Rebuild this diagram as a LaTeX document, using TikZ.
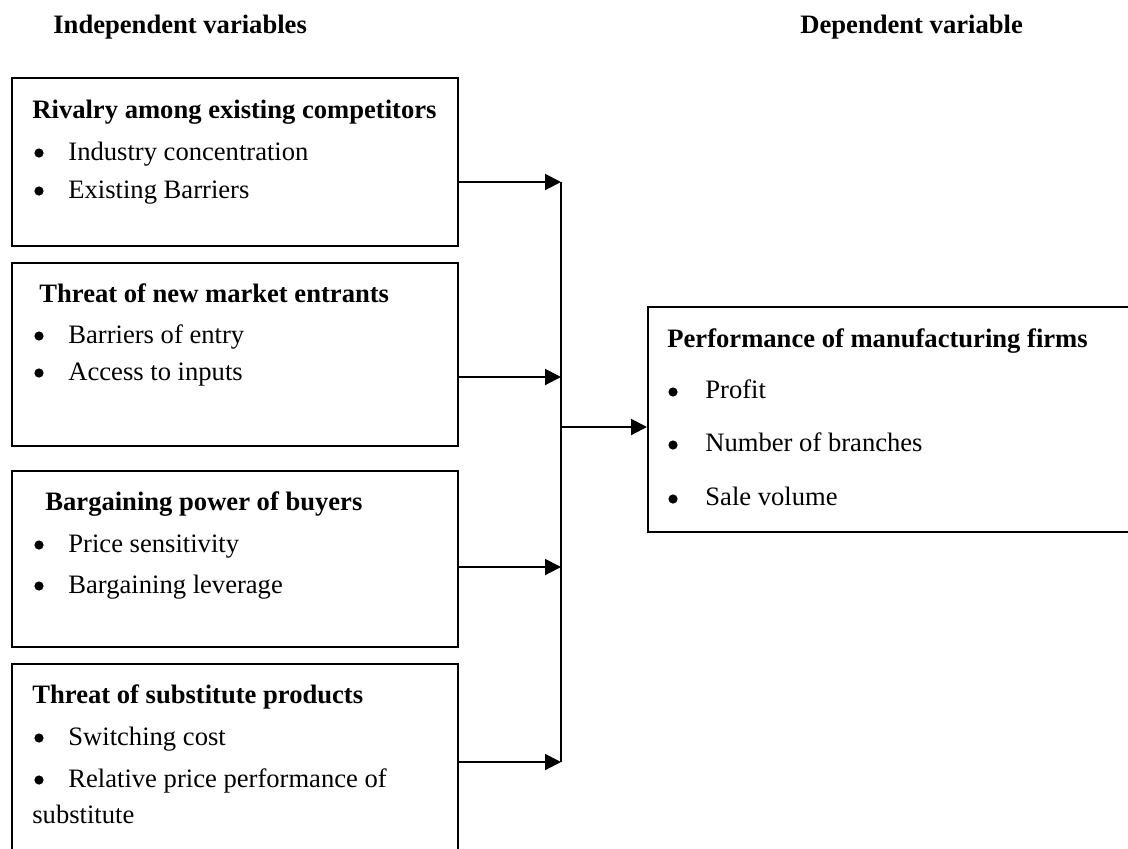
\documentclass[tikz,border=0pt]{standalone}
\usepackage{fontspec}
\setmainfont{Liberation Serif}
\usetikzlibrary{arrows.meta}
\tikzset{
  box/.style={draw, line width=1pt, rectangle, anchor=north west, inner sep=0pt},
  txt/.style={anchor=base west, inner sep=0pt, font=\fontsize{13.3pt}{16pt}\selectfont},
  ttl/.style={txt, font=\fontsize{13.3pt}{16pt}\selectfont\bfseries},
  dot/.style={circle, fill=black, inner sep=0pt, minimum size=4.6pt},
  conn/.style={line width=1pt, -{Triangle[length=8pt,width=8pt]}},
  trunk/.style={line width=1pt}
}
\begin{document}
\begin{tikzpicture}[x=0.5pt,y=-0.5pt]
\useasboundingbox (0,0) rectangle (1128,848);
\clip (0,0) rectangle (1128,848);
% headings
\node[ttl] (hind) at (53,33) {Independent variables};
\node[ttl] (hdep) at (800,33) {Dependent variable};
% boxes
\node[box, minimum width=223pt, minimum height=84pt] (b1) at (11,77) {};
\node[box, minimum width=223pt, minimum height=91.5pt] (b2) at (11,262) {};
\node[box, minimum width=223pt, minimum height=88pt] (b3) at (11,470) {};
\node[box, minimum width=223pt, minimum height=100pt] (b4) at (11,663) {};
\node[box, minimum width=250pt, minimum height=112.5pt] (br) at (647,306) {};
% box 1
\node[ttl] (t1) at (32,118) {Rivalry among existing competitors};
\node[dot] (d11) at (39,153) {};
\node[txt] (i11) at (68,160) {Industry concentration};
\node[dot] (d12) at (39,191) {};
\node[txt] (i12) at (68,198) {Existing Barriers};
% box 2
\node[ttl] (t2) at (39,302) {Threat of new market entrants};
\node[dot] (d21) at (39,336) {};
\node[txt] (i21) at (68,343) {Barriers of entry};
\node[dot] (d22) at (39,373) {};
\node[txt] (i22) at (68,380) {Access to inputs};
% box 3
\node[ttl] (t3) at (45,510) {Bargaining power of buyers};
\node[dot] (d31) at (39,545) {};
\node[txt] (i31) at (68,552) {Price sensitivity};
\node[dot] (d32) at (39,586) {};
\node[txt] (i32) at (68,593) {Bargaining leverage};
% box 4
\node[ttl] (t4) at (32,703) {Threat of substitute products};
\node[dot] (d41) at (39,738) {};
\node[txt] (i41) at (68,745) {Switching cost};
\node[dot] (d42) at (39,780) {};
\node[txt] (i42) at (68,787) {Relative price performance of};
\node[txt] (i43) at (32,823) {substitute};
% right box
\node[ttl] (tr) at (667,347) {Performance of manufacturing firms};
\node[dot] (dr1) at (673,392) {};
\node[txt] (ir1) at (705,398) {Profit};
\node[dot] (dr2) at (673,445) {};
\node[txt] (ir2) at (705,451) {Number of branches};
\node[dot] (dr3) at (673,499) {};
\node[txt] (ir3) at (705,505) {Sale volume};
% connectors
\coordinate (j1) at (561,182);
\coordinate (j2) at (561,377);
\coordinate (j3) at (561,567);
\coordinate (j4) at (561,762);
\coordinate (jm) at (561,427);
\draw[trunk] (j1) -- (j4);
\draw[conn] (b1.east |- j1) -- (j1);
\draw[conn] (b2.east |- j2) -- (j2);
\draw[conn] (b3.east |- j3) -- (j3);
\draw[conn] (b4.east |- j4) -- (j4);
\draw[conn] (jm) -- (br.west |- jm);
\end{tikzpicture}
\end{document}
